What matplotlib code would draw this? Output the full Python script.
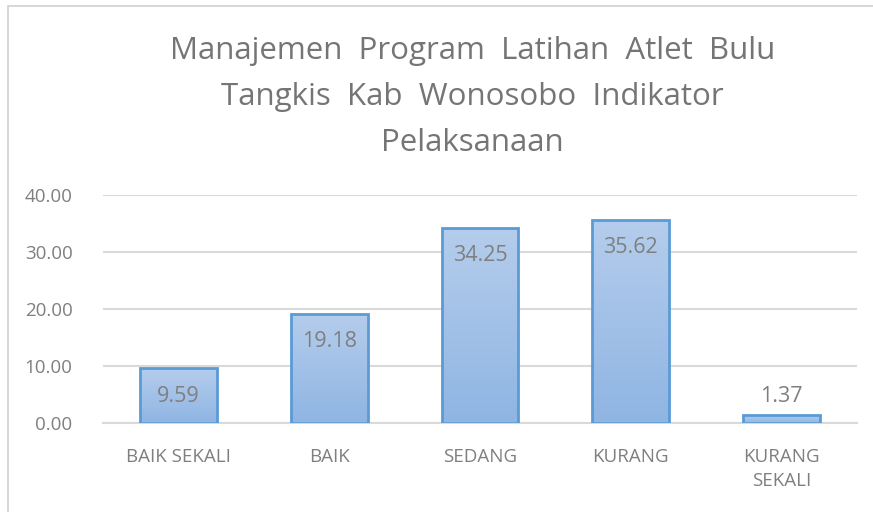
import numpy as np
import matplotlib.pyplot as plt
from matplotlib.colors import LinearSegmentedColormap
from matplotlib.patches import Rectangle

categories = ["BAIK SEKALI", "BAIK", "SEDANG", "KURANG", "KURANG\nSEKALI"]
values = [9.59, 19.18, 34.25, 35.62, 1.37]
yticks = [0, 10, 20, 30, 40]
title = "Manajemen  Program  Latihan  Atlet  Bulu\nTangkis  Kab  Wonosobo  Indikator\nPelaksanaan"

plt.rcParams['font.family'] = ['Open Sans', 'DejaVu Sans']
gray = "#7f7f7f"

fig = plt.figure(figsize=(8.73, 5.12), dpi=100)
ax = fig.add_axes([103 / 873, 1 - 423 / 512, (857 - 103) / 873, (423 - 195) / 512])

# chart frame (cut by image edge like the screenshot)
fig.patches.append(Rectangle((8 / 873, -0.1), 1.2, 1 - 6 / 512 + 0.1, transform=fig.transFigure,
                             fill=False, edgecolor="#d0d0d0", linewidth=1.2))

x = np.arange(len(categories))
bars = ax.bar(x, values, width=0.51, color="none", edgecolor="#5b9bd5", linewidth=2, zorder=3)

cmap = LinearSegmentedColormap.from_list("grad", ["#8fb5e3", "#b5cdec"])
grad = np.linspace(0, 1, 256).reshape(-1, 1)
for b in bars:
    x0, w, h = b.get_x(), b.get_width(), b.get_height()
    im = ax.imshow(grad, cmap=cmap, origin="lower", aspect="auto",
                   extent=(x0, x0 + w, 0, h), zorder=2)
    im.set_clip_path(b)

for xi, v in zip(x, values):
    if v > 5:
        ax.text(xi, v - 4.9, f"{v:.2f}", ha="center", va="center", fontsize=15.5, color=gray, zorder=4)
    else:
        ax.text(xi, v + 3.3, f"{v:.2f}", ha="center", va="center", fontsize=15.5, color=gray, zorder=4)

ax.set_xlim(-0.5, len(categories) - 0.5)
ax.set_ylim(0, 40)
ax.set_yticks(yticks)
ax.set_yticklabels([f"{t:.2f}" for t in yticks], fontsize=13.5, color=gray)
ax.set_xticks(x)
ax.set_xticklabels(categories, fontsize=13.5, color=gray, linespacing=1.45)
ax.tick_params(axis="y", length=0, pad=22)
ax.tick_params(axis="x", length=0, pad=18)
ax.grid(axis="y", color="#d9d9d9", linewidth=1.5, zorder=0)
for s in ["top", "right", "left"]:
    ax.spines[s].set_visible(False)
ax.spines["bottom"].set_color("#d9d9d9")
ax.spines["bottom"].set_linewidth(1.5)

fig.text(0.541, 1 - 97 / 512, title, ha="center", va="center", fontsize=22.5,
         color="#757575", linespacing=1.68)

plt.savefig("out.png", dpi=100)
